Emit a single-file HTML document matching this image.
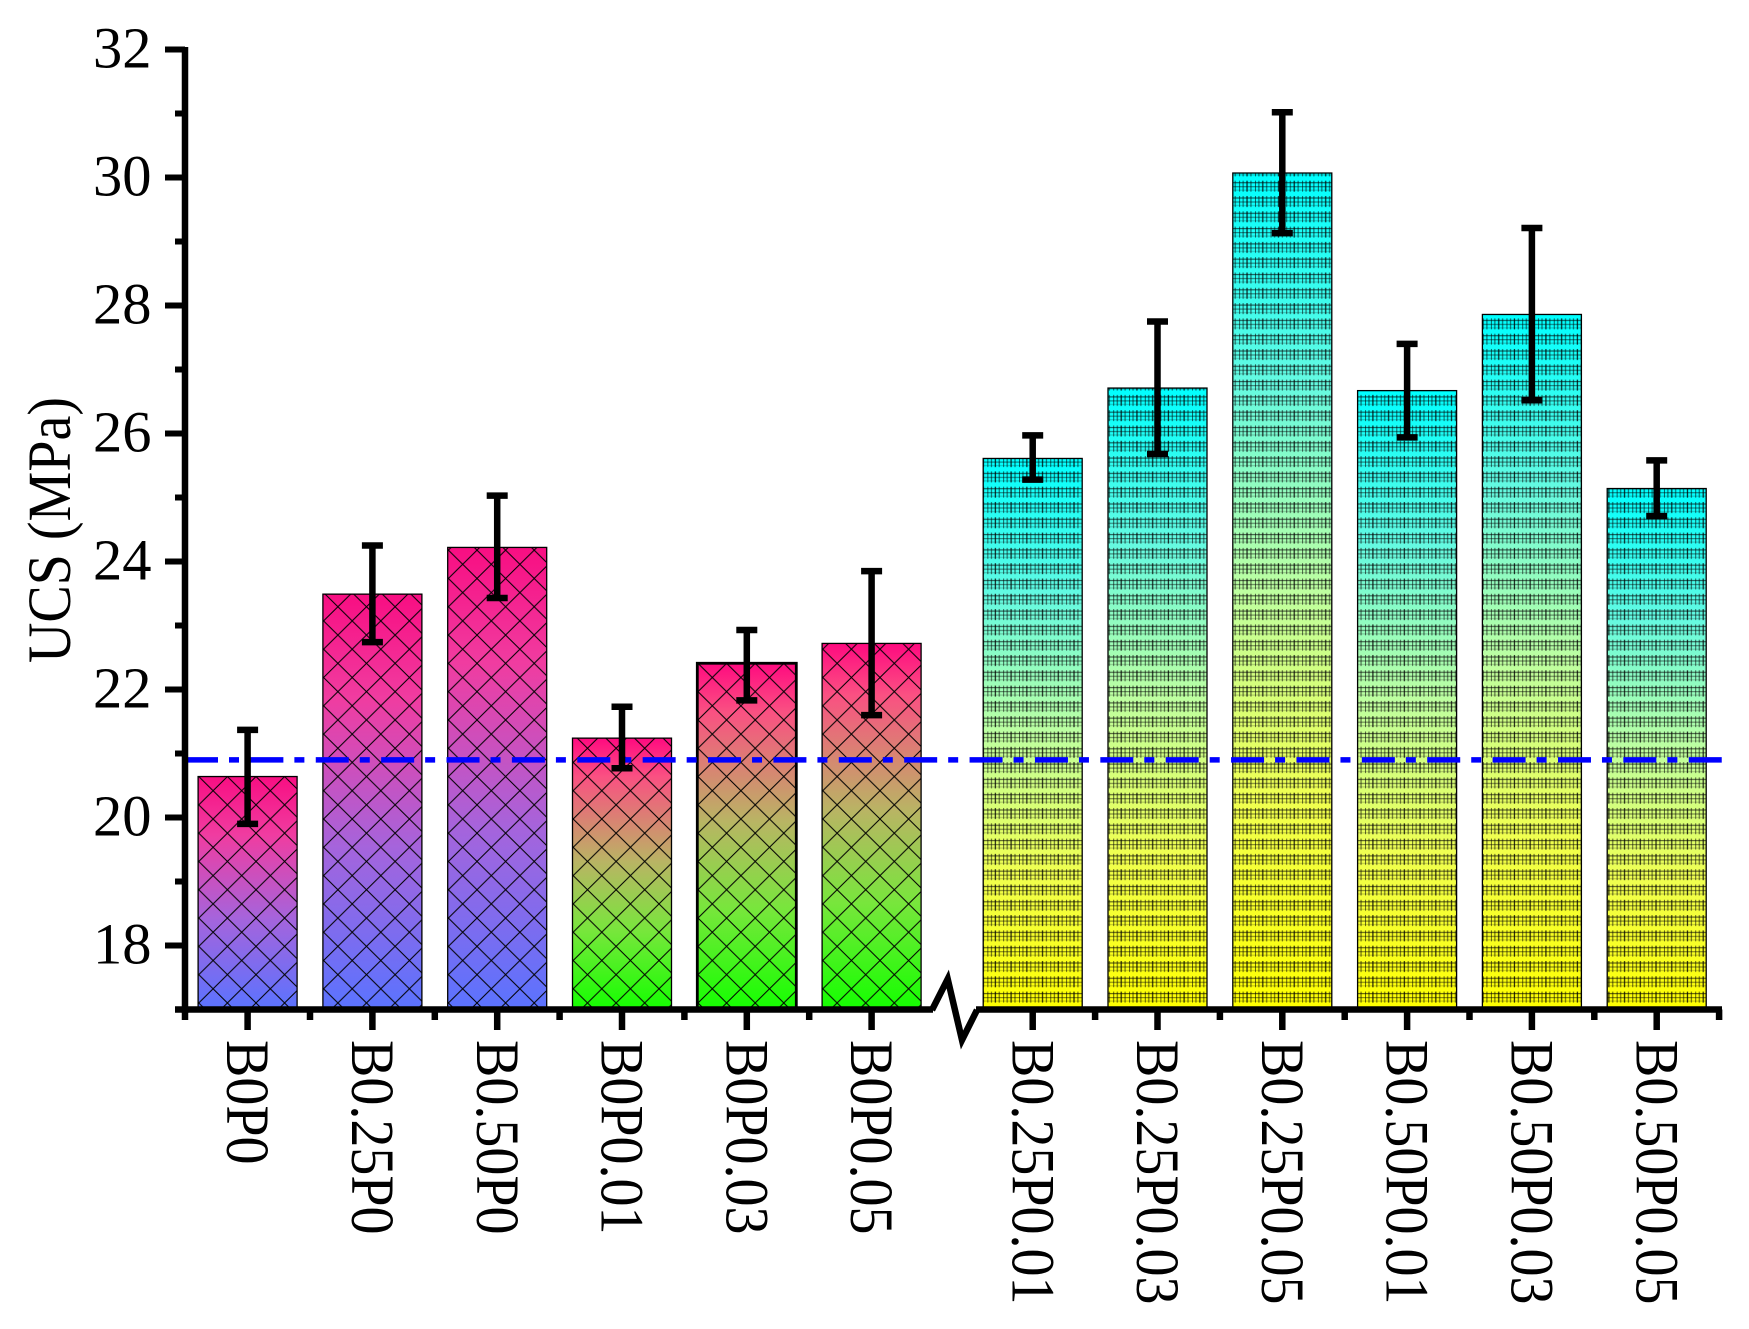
<!DOCTYPE html>
<html lang="en">
<head>
<meta charset="utf-8">
<title>UCS bar chart</title>
<style>
html,body{margin:0;padding:0;background:#fff}
svg{display:block}
text{font-family:"Liberation Serif",serif;fill:#000}
</style>
</head>
<body>
<svg id="chart" xmlns="http://www.w3.org/2000/svg" width="1749" height="1329" viewBox="0 0 1749 1329">
  <defs>
    <linearGradient id="grad-blue" x1="0" y1="0" x2="0" y2="1">
      <stop offset="0" stop-color="rgb(248,14,130)"/>
      <stop offset="0.25" stop-color="rgb(240,60,160)"/>
      <stop offset="0.61" stop-color="rgb(165,100,220)"/>
      <stop offset="1" stop-color="rgb(90,115,255)"/>
    </linearGradient>
    <linearGradient id="grad-green" x1="0" y1="0" x2="0" y2="1">
      <stop offset="0" stop-color="rgb(255,10,128)"/>
      <stop offset="0.14" stop-color="rgb(250,80,130)"/>
      <stop offset="0.456" stop-color="rgb(185,180,100)"/>
      <stop offset="0.71" stop-color="rgb(120,230,60)"/>
      <stop offset="1" stop-color="rgb(20,255,0)"/>
    </linearGradient>
    <linearGradient id="grad-yellow" x1="0" y1="0" x2="0" y2="1">
      <stop offset="0" stop-color="rgb(0,255,255)"/>
      <stop offset="0.25" stop-color="rgb(100,250,225)"/>
      <stop offset="0.5" stop-color="rgb(190,255,160)"/>
      <stop offset="0.75" stop-color="rgb(240,255,80)"/>
      <stop offset="1" stop-color="rgb(255,255,0)"/>
    </linearGradient>
    <pattern id="hatch-grid" patternUnits="userSpaceOnUse" x="1003.3" y="958" width="15.73" height="15.3">
      <path d="M0 3V14" stroke="#000" stroke-opacity=".9" stroke-width="1.3"/>
      <path d="M3.9 3V14" stroke="#000" stroke-opacity=".5" stroke-width="1.3"/>
      <path d="M7.8 3V14" stroke="#000" stroke-opacity=".8" stroke-width="1.3"/>
      <path d="M11.7 3V14" stroke="#000" stroke-opacity=".5" stroke-width="1.3"/>
      <path d="M0 5H15.73" stroke="#000" stroke-opacity=".6" stroke-width="1.2"/>
      <path d="M0 9H15.73" stroke="#000" stroke-opacity=".45" stroke-width="1.2"/>
      <path d="M0 12.5H15.73" stroke="#000" stroke-opacity=".2" stroke-width="1.2"/>
    </pattern>
  </defs>
  <g id="bars"></g>
  <g id="reference"></g>
  <g id="errors"></g>
  <g id="axes"></g>
  <text transform="translate(70,663) rotate(-90) scale(1,1.09)" font-size="56">UCS (MPa)</text>
</svg>
<script>
const categories = ["B0P0","B0.25P0","B0.50P0","B0P0.01","B0P0.03","B0P0.05","B0.25P0.01","B0.25P0.03","B0.25P0.05","B0.50P0.01","B0.50P0.03","B0.50P0.05"];
const ucsValues = [20.64,23.49,24.22,21.24,22.41,22.72,25.61,26.71,30.07,26.67,27.86,25.14];
const errorHigh = [21.37,24.25,25.03,21.73,22.93,23.85,25.97,27.75,31.02,27.40,29.21,25.58];
const errorLow = [19.90,22.74,23.43,20.77,21.83,21.60,25.28,25.68,29.13,25.94,26.52,24.71];
const yMajorTicks = [18,20,22,24,26,28,30,32];
const yMinorTicks = [17,19,21,23,25,27,29,31];
const referenceLevel = [20.9];

const svgNS = "http://www.w3.org/2000/svg";
const yScale = v => 49.5 + (32 - v) * 64;
const xScale = i => 247.6 + 124.8 * i + (i >= 6 ? 36.3 : 0);
const xMid = i => xScale(i) + 62.4;
const barsG = document.getElementById("bars");
const refG = document.getElementById("reference");
const errG = document.getElementById("errors");
const axG = document.getElementById("axes");
const defs = document.querySelector("defs");

function mk(tag, attrs, parent) {
  const el = document.createElementNS(svgNS, tag);
  for (const k in attrs) el.setAttribute(k, attrs[k]);
  parent.appendChild(el);
  return el;
}

const baseY = yScale(17);
const barWidth = 99;

categories.forEach((name, i) => {
  const cx = xScale(i);
  const left = cx - barWidth / 2;
  const top = yScale(ucsValues[i]);
  const h = baseY - top;
  const gradient = i < 3 ? "grad-blue" : i < 6 ? "grad-green" : "grad-yellow";

  const fill = mk("rect", {x: left, y: top, width: barWidth, height: h, fill: "url(#" + gradient + ")"}, barsG);
  
  

  let hatchFill = "url(#hatch-grid)";
  if (i < 6) {
    const pid = "hatch-diamond-" + i;
    const p = mk("pattern", {id: pid, patternUnits: "userSpaceOnUse", x: left + 15 - 14.3, y: 790.7 - 14.15 + (i % 2) * 14.15, width: 28.6, height: 28.3}, defs);
    mk("path", {d: "M0 0L28.6 28.3M28.6 0L0 28.3", stroke: "#000", "stroke-width": 1, fill: "none"}, p);
    hatchFill = "url(#" + pid + ")";
  }
  const hatch = mk("rect", {x: left, y: top, width: barWidth, height: h, fill: hatchFill}, barsG);
  
  

  const outline = mk("rect", {x: left, y: top, width: barWidth, height: h, fill: "none", stroke: "#000", "stroke-width": i === 4 ? 2.8 : 1.3}, barsG);
  
  

  const yHi = yScale(errorHigh[i]);
  const yLo = yScale(errorLow[i]);
  const stem = mk("line", {x1: cx, x2: cx, y1: yHi, y2: yLo, stroke: "#000", "stroke-width": 6.5}, errG);
  
  
  const capTop = mk("line", {x1: cx - 10.5, x2: cx + 10.5, y1: yHi, y2: yHi, stroke: "#000", "stroke-width": 6.5}, errG);
  
  
  const capLow = mk("line", {x1: cx - 10.5, x2: cx + 10.5, y1: yLo, y2: yLo, stroke: "#000", "stroke-width": 6.5}, errG);
  
  

  const tick = mk("line", {x1: cx, x2: cx, y1: baseY, y2: 1030, stroke: "#000", "stroke-width": 6.5}, axG);
  
  

  const label = mk("text", {transform: "translate(" + (cx - 20.4) + ",1040) rotate(90) scale(1,1.09)", "font-size": 56}, axG);
  label.textContent = name;
  
  

  if (i !== 5) {
    const mid = mk("line", {x1: xMid(i), x2: xMid(i), y1: baseY, y2: 1020, stroke: "#000", "stroke-width": 6.5}, axG);
    
    
  }
});

const startTick = mk("line", {x1: 185, x2: 185, y1: baseY, y2: 1020, stroke: "#000", "stroke-width": 6.5}, axG);



const refLine = mk("line", {x1: 185, x2: 1731, y1: yScale(referenceLevel[0]), y2: yScale(referenceLevel[0]), stroke: "#0000ff", "stroke-width": 5.5, "stroke-dasharray": "33 11 10 11.38"}, refG);



const yAxisLine = mk("line", {x1: 185, x2: 185, y1: 47, y2: 1013, stroke: "#000", "stroke-width": 6.5}, axG);



const xAxisLeft = mk("line", {x1: 175, x2: 933, y1: baseY, y2: baseY, stroke: "#000", "stroke-width": 6.5}, axG);



const xAxisRight = mk("line", {x1: 976, x2: 1722, y1: baseY, y2: baseY, stroke: "#000", "stroke-width": 6.5}, axG);



const axisBreak = mk("path", {d: "M932 1010L947.7 979L962 1040L977 1010", fill: "none", stroke: "#000", "stroke-width": 6.5, "stroke-linejoin": "miter"}, axG);



yMajorTicks.forEach(v => {
  const t = mk("line", {x1: 165, x2: 185, y1: yScale(v), y2: yScale(v), stroke: "#000", "stroke-width": 6}, axG);
  
  
  const l = mk("text", {x: 151.5, y: yScale(v) + 18, "font-size": 58.5, "text-anchor": "end"}, axG);
  l.textContent = v;
  
  
});

yMinorTicks.forEach(v => {
  const t = mk("line", {x1: 175, x2: 185, y1: yScale(v), y2: yScale(v), stroke: "#000", "stroke-width": 6}, axG);
  
  
});
</script>
</body>
</html>
